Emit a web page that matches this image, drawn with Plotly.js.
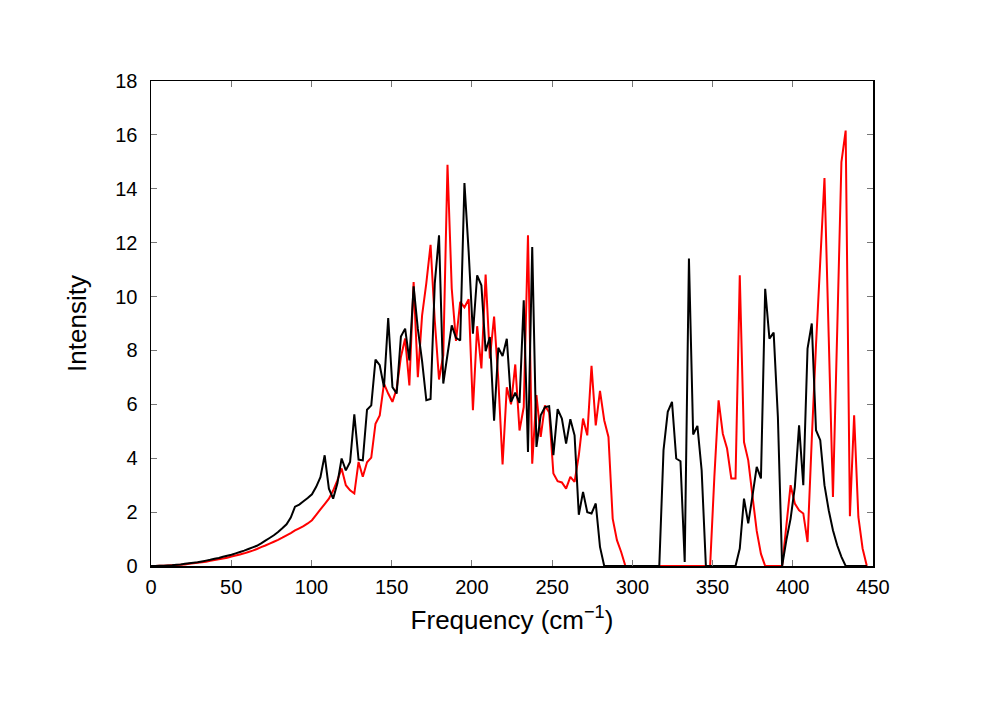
<!DOCTYPE html>
<html>
<head>
<meta charset="utf-8">
<script src="https://cdn.plot.ly/plotly-3.0.1.min.js"></script>
<style>
  html, body { margin: 0; padding: 0; background: #fff; }
  #chart { width: 997px; height: 704px; }
</style>
</head>
<body>
<div id="chart"></div>
<script>
// spectra sampled on a uniform frequency grid (cm^-1), first point at 0
const step = 2.64;

// black spectrum
const black = [
  0, 0, 0.01, 0.01, 0.02, 0.03, 0.05, 0.06, 0.08, 0.10,
  0.12, 0.14, 0.17, 0.20, 0.23, 0.27, 0.30, 0.34, 0.38, 0.42,
  0.47, 0.52, 0.57, 0.63, 0.69, 0.75, 0.84, 0.94, 1.04, 1.14,
  1.26, 1.40, 1.55, 1.80, 2.20, 2.28, 2.40, 2.52, 2.66, 2.94,
  3.30, 4.11, 2.87, 2.50, 3.06, 3.99, 3.55, 3.86, 5.63, 3.95,
  3.92, 5.80, 5.96, 7.66, 7.45, 6.64, 9.20, 6.64, 6.40, 8.52,
  8.81, 7.63, 10.38, 8.80, 7.60, 6.15, 6.20, 10.50, 12.27, 6.77,
  7.85, 8.93, 8.47, 8.37, 14.21, 11.65, 8.62, 10.79, 10.42, 7.97,
  8.50, 5.39, 8.10, 7.79, 8.43, 6.09, 6.43, 6.05, 9.86, 4.23,
  11.84, 4.42, 5.59, 5.90, 5.93, 4.11, 5.82, 5.47, 4.54, 5.45,
  4.85, 1.90, 2.75, 2.00, 1.95, 2.32, 0.71, 0, 0, 0,
  0, 0, 0, 0, 0, 0, 0, 0, 0, 0,
  0, 4.30, 5.72, 6.09, 3.99, 3.89, 0.15, 11.41, 4.88, 5.20,
  3.55, 0, 0, 0, 0, 0, 0, 0, 0, 0.65,
  2.50, 1.58, 2.60, 3.68, 3.25, 10.29, 8.44, 8.66, 5.53, 0,
  0.96, 1.76, 2.93, 5.22, 3.00, 8.07, 9.00, 5.04, 4.67, 3.00,
  2.07, 1.33, 0.77, 0.34, 0, 0, 0, 0, 0, 0
];

// red spectrum
const red = [
  0, 0, 0.01, 0.01, 0.02, 0.03, 0.04, 0.05, 0.06, 0.08,
  0.10, 0.12, 0.14, 0.16, 0.19, 0.22, 0.25, 0.28, 0.31, 0.35,
  0.39, 0.43, 0.47, 0.52, 0.57, 0.63, 0.70, 0.76, 0.83, 0.90,
  0.97, 1.05, 1.14, 1.22, 1.32, 1.40, 1.48, 1.58, 1.70, 1.90,
  2.10, 2.30, 2.50, 2.80, 3.18, 3.62, 3.00, 2.81, 2.69, 3.86,
  3.31, 3.85, 4.02, 5.28, 5.59, 6.77, 6.40, 6.09, 6.58, 7.76,
  8.44, 6.70, 10.54, 7.01, 9.30, 10.50, 11.92, 9.10, 6.92, 7.82,
  14.89, 10.30, 8.35, 9.80, 9.60, 9.90, 5.78, 8.90, 7.33, 10.82,
  7.70, 9.26, 6.90, 3.77, 6.63, 6.00, 7.48, 5.03, 5.90, 12.27,
  3.80, 6.34, 4.79, 5.96, 5.70, 3.43, 3.15, 3.10, 2.87, 3.31,
  3.12, 4.11, 5.47, 4.85, 7.43, 5.22, 6.50, 5.41, 4.79, 1.76,
  0.96, 0.52, 0, 0, 0, 0, 0, 0, 0, 0,
  0, 0, 0, 0, 0, 0, 0, 0, 0, 0,
  0, 0, 0, 3.30, 6.15, 4.91, 4.36, 3.25, 3.25, 10.79,
  4.60, 3.92, 2.60, 1.30, 0.45, 0, 0, 0, 0, 0,
  1.50, 3.00, 2.32, 2.07, 1.95, 0.89, 4.70, 8.20, 11.30, 14.40,
  8.50, 2.56, 8.70, 14.99, 16.16, 1.85, 5.59, 1.82, 0.65, 0
];

// red drawn first so black sits on top
let traceRed = {
  y: red,
  x0: 0,
  dx: step,
  type: "scatter",
  mode: "lines",
  line: {color: "#ff0000", width: 2, simplify: false},
  hoverinfo: "skip"
};

let traceBlack = {
  y: black,
  x0: 0,
  dx: step,
  type: "scatter",
  mode: "lines",
  line: {color: "#000000", width: 2, simplify: false},
  hoverinfo: "skip"
};

let axisCommon = {
  showline: true,
  linecolor: "#000",
  linewidth: 1.5,
  mirror: "ticks",
  ticks: "inside",
  ticklen: 6,
  tickwidth: 1,
  tickcolor: "#777",
  showgrid: false,
  zeroline: false,
  tickfont: {family: "Liberation Sans, Arial, sans-serif", size: 20, color: "#000"}
};

let layout = {
  width: 997,
  height: 704,
  margin: {l: 151, r: 124, t: 81, b: 138},
  paper_bgcolor: "#fff",
  plot_bgcolor: "#fff",
  showlegend: false,
  font: {family: "Liberation Sans, Arial, sans-serif", color: "#000"},
  xaxis: Object.assign({}, axisCommon, {
    range: [0, 450],
    dtick: 50,
    tick0: 0,
    ticklabelstandoff: 2,
    title: {text: "Frequency (cm<sup>\u22121</sup>)", font: {size: 26}, standoff: 14}
  }),
  yaxis: Object.assign({}, axisCommon, {
    range: [0, 18],
    dtick: 2,
    tick0: 0,
    ticklabelstandoff: 8,
    title: {text: "Intensity", font: {size: 26}, standoff: 21}
  })
};

Plotly.newPlot("chart", [traceRed, traceBlack], layout, {staticPlot: true, displayModeBar: false});
</script>
</body>
</html>
